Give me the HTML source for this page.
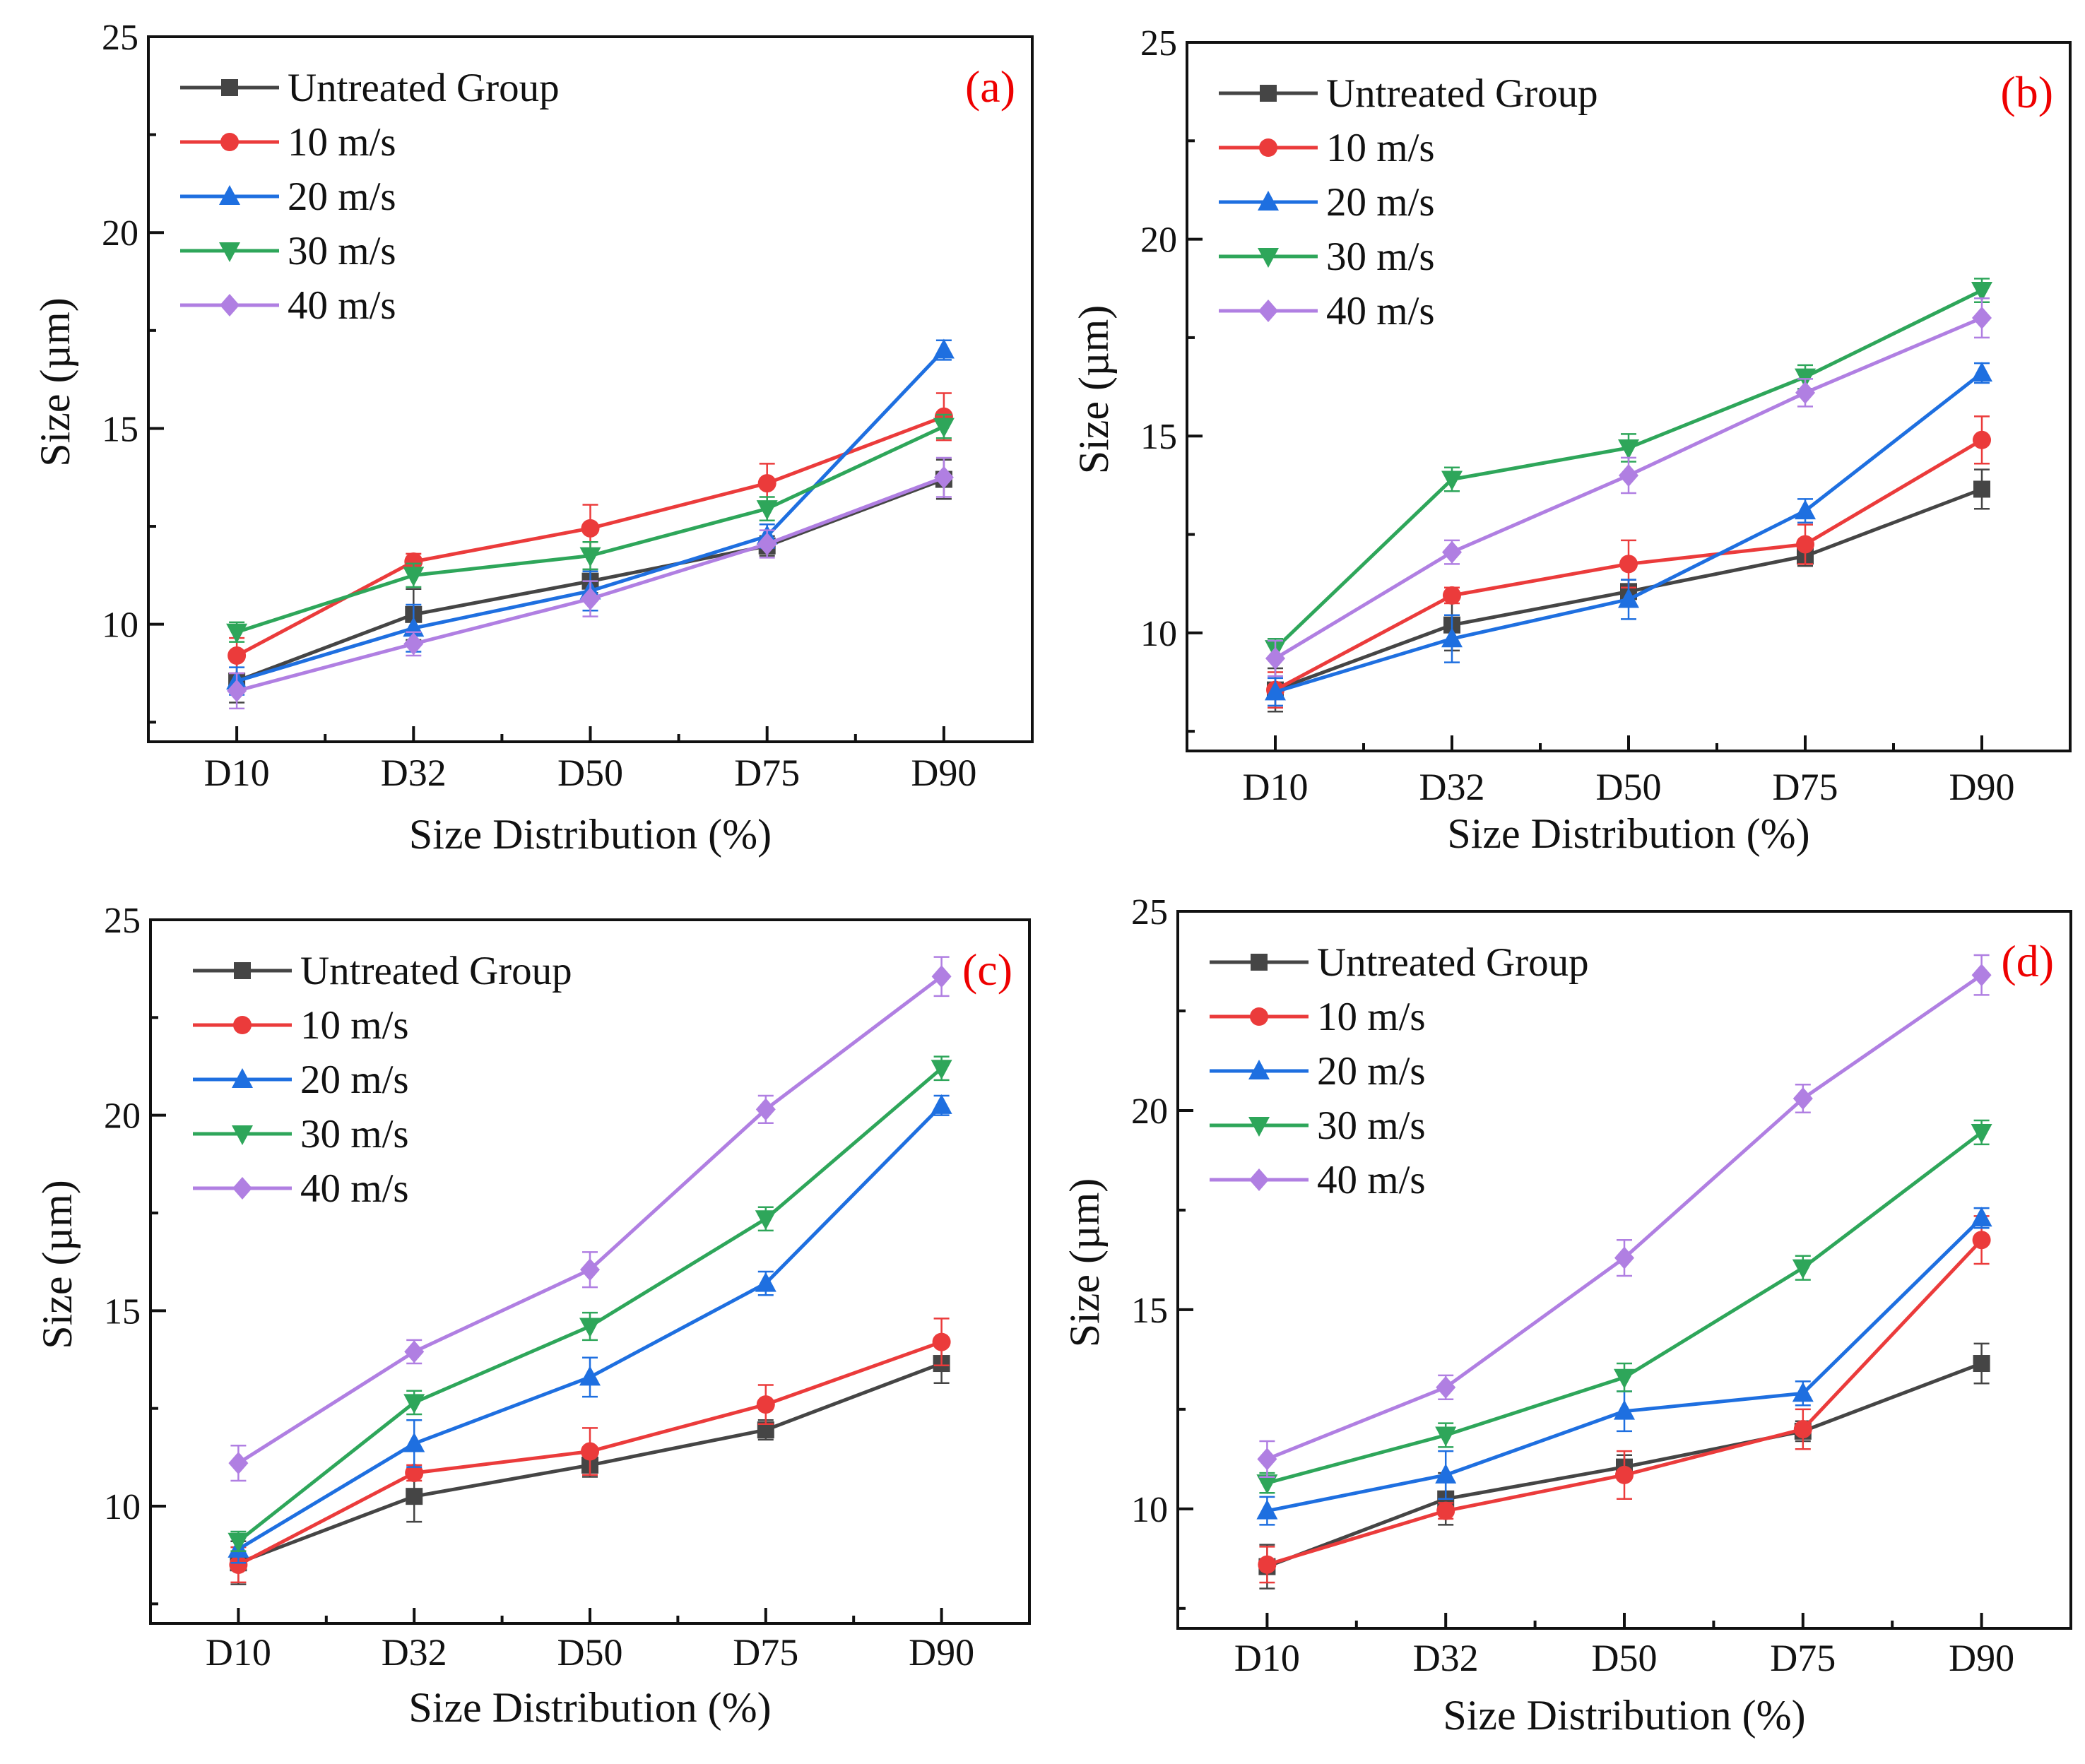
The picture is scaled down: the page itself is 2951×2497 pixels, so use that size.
<!DOCTYPE html>
<html><head><meta charset="utf-8">
<style>
html,body{margin:0;padding:0;background:#fff;}
svg{display:block;}
text{font-family:"Liberation Serif","DejaVu Serif",serif;}
</style></head>
<body>
<svg id="fig" width="2951" height="2497" viewBox="0 0 2951 2497" xmlns="http://www.w3.org/2000/svg" font-family="Liberation Serif, serif"></svg>
<script>
const categories = ["D10","D32","D50","D75","D90"];
const seriesNames = ["Untreated Group","10 m/s","20 m/s","30 m/s","40 m/s"];
const yTicks = [10,15,20,25];
const yMinorTicks = [7.5,12.5,17.5,22.5];
const panelLabels = ["(a)","(b)","(c)","(d)"];

const aUntreated = [8.55,10.25,11.1,12.0,13.7];
const a10 = [9.2,11.6,12.45,13.6,15.3];
const a20 = [8.55,9.9,10.85,12.25,17.0];
const a30 = [9.8,11.25,11.75,12.95,15.05];
const a40 = [8.3,9.5,10.65,12.05,13.75];

const bUntreated = [8.55,10.2,11.05,11.95,13.65];
const b10 = [8.55,10.95,11.75,12.25,14.9];
const b20 = [8.5,9.85,10.85,13.1,16.6];
const b30 = [9.6,13.9,14.7,16.5,18.7];
const b40 = [9.35,12.05,14.0,16.1,18.0];

const cUntreated = [8.55,10.25,11.05,11.95,13.65];
const c10 = [8.5,10.85,11.4,12.6,14.2];
const c20 = [8.9,11.6,13.3,15.7,20.25];
const c30 = [9.1,12.65,14.6,17.35,21.2];
const c40 = [11.1,13.95,16.05,20.15,23.55];

const dUntreated = [8.55,10.25,11.05,11.95,13.65];
const d10 = [8.6,9.95,10.85,12.0,16.75];
const d20 = [9.95,10.85,12.45,12.9,17.3];
const d30 = [10.65,11.85,13.3,16.05,19.45];
const d40 = [11.25,13.05,16.3,20.3,23.4];

const errUntreated = [0.55,0.65,0.3,0.25,0.5];
const err10 = [0.45,0.2,0.6,0.5,0.6];
const err20 = [0.35,0.6,0.5,0.3,0.25];
const err30 = [0.25,0.3,0.35,0.3,0.3];
const err40 = [0.45,0.3,0.45,0.35,0.5];

const panelData = [
  [aUntreated,a10,a20,a30,a40],
  [bUntreated,b10,b20,b30,b40],
  [cUntreated,c10,c20,c30,c40],
  [dUntreated,d10,d20,d30,d40]
];
const errData = [errUntreated,err10,err20,err30,err40];

const colors = ["#454545","#eb3b3b","#1e6fe0","#2ea65a","#b07fe2"];
const markers = ["square","circle","up","down","diamond"];
const frames = [
  {l:210,r:1461,t:52,b:1050,tickY:1093,titleY:1181},
  {l:1680,r:2930,t:60,b:1063,tickY:1113,titleY:1180},
  {l:213,r:1457,t:1302,b:2298,tickY:2338,titleY:2417},
  {l:1667,r:2931,t:1290,b:2305,tickY:2346,titleY:2428}
];
const FONT = '"Liberation Serif", "DejaVu Serif", serif';
const svg = document.getElementById('fig');
const NS = "http://www.w3.org/2000/svg";
function mk(tag, attrs, parent){
  const e = document.createElementNS(NS, tag);
  for (const k in attrs) e.setAttribute(k, attrs[k]);
  if (tag === 'text') e.style.fontFamily = FONT;
  parent.appendChild(e);
  return e;
}
function drawMarker(g, type, x, y, color){
  const s = 14;
  let e;
  if (type==="square") e = mk('rect',{x:x-s+2,y:y-s+2,width:2*s-4,height:2*s-4,fill:color},g);
  else if (type==="circle") e = mk('circle',{cx:x,cy:y,r:s-1,fill:color},g);
  else if (type==="up") e = mk('polygon',{points:`${x},${y-s-2} ${x+s+1},${y+s-2} ${x-s-1},${y+s-2}`,fill:color},g);
  else if (type==="down") e = mk('polygon',{points:`${x},${y+s+2} ${x+s+1},${y-s+2} ${x-s-1},${y-s+2}`,fill:color},g);
  else e = mk('polygon',{points:`${x},${y-s-2} ${x+s},${y} ${x},${y+s+2} ${x-s},${y}`,fill:color},g);
  
  
  return e;
}

frames.forEach((f, pi) => {
  const g = mk('g',{},svg);
  
  
  const yMin = 7, yMax = 25;
  const xs = i => f.l + (i + 0.5) * (f.r - f.l) / 5;
  const ys = v => f.b - (v - yMin) / (yMax - yMin) * (f.b - f.t);

  panelData[pi].forEach((vals, si) => {
    const sg = mk('g',{},g);
    
    
    const pts = vals.map((v,i)=>xs(i)+','+ys(v)).join(' ');
    mk('polyline',{points:pts,fill:'none',stroke:colors[si],'stroke-width':5,'stroke-linejoin':'round'},sg);
    vals.forEach((v,i)=>{
      const e = errData[si][i];
      const x = xs(i);
      mk('line',{x1:x,x2:x,y1:ys(v-e),y2:ys(v+e),stroke:colors[si],'stroke-width':2.5},sg);
      mk('line',{x1:x-11,x2:x+11,y1:ys(v-e),y2:ys(v-e),stroke:colors[si],'stroke-width':2.5},sg);
      mk('line',{x1:x-11,x2:x+11,y1:ys(v+e),y2:ys(v+e),stroke:colors[si],'stroke-width':2.5},sg);
      drawMarker(sg, markers[si], x, ys(v), colors[si]);
    });
  });

  const fr = mk('rect',{x:f.l,y:f.t,width:f.r-f.l,height:f.b-f.t,fill:'none',stroke:'#111','stroke-width':4},g);
  
  

  categories.forEach((c,i)=>{
    const x = xs(i);
    mk('line',{x1:x,x2:x,y1:f.b,y2:f.b-22,stroke:'#111','stroke-width':4},g);
    if (i < 4) { const xm = (xs(i)+xs(i+1))/2; mk('line',{x1:xm,x2:xm,y1:f.b,y2:f.b-11,stroke:'#111','stroke-width':4},g); }
    const t = mk('text',{x:x,y:f.tickY+19,'text-anchor':'middle','font-size':54,fill:'#111'},g);
    t.textContent = c;
    
    
  });
  yTicks.forEach(v=>{
    const y = ys(v);
    mk('line',{x1:f.l,x2:f.l+22,y1:y,y2:y,stroke:'#111','stroke-width':4},g);
    const t = mk('text',{x:f.l-14,y:y+18,'text-anchor':'end','font-size':52,fill:'#111'},g);
    t.textContent = v;
    
    
  });
  yMinorTicks.forEach(v=>{
    const y = ys(v);
    mk('line',{x1:f.l,x2:f.l+11,y1:y,y2:y,stroke:'#111','stroke-width':4},g);
  });

  const xt = mk('text',{x:(f.l+f.r)/2,y:f.titleY+20,'text-anchor':'middle','font-size':60,fill:'#111'},g);
  xt.textContent = 'Size Distribution (%)';
  
  
  const ycx = f.l - 132, ycy = (f.t+f.b)/2 - 10;
  const yt = mk('text',{x:ycx,y:ycy,'text-anchor':'middle','font-size':60,fill:'#111',transform:`rotate(-90 ${ycx} ${ycy})`,'dominant-baseline':'central'},g);
  yt.textContent = 'Size (\u00b5m)';
  
  

  const pl = mk('text',{x:f.r-24,y:f.t+92,'text-anchor':'end','font-size':64,fill:'#e00'},g);
  pl.textContent = panelLabels[pi];
  
  

  const lg = mk('g',{},g);
  
  
  const lx = f.l + 45 + (pi===2 ? 15 : 0), ly0 = f.t + 72;
  seriesNames.forEach((n,si)=>{
    const y = ly0 + si*77;
    const eg = mk('g',{},lg);
    
    
    mk('line',{x1:lx,x2:lx+140,y1:y,y2:y,stroke:colors[si],'stroke-width':5},eg);
    drawMarker(eg, markers[si], lx+70, y, colors[si]);
    const t = mk('text',{x:lx+152,y:y+19,'font-size':57,fill:'#111'},eg);
    t.textContent = n;
  });
});
</script>
</body></html>
